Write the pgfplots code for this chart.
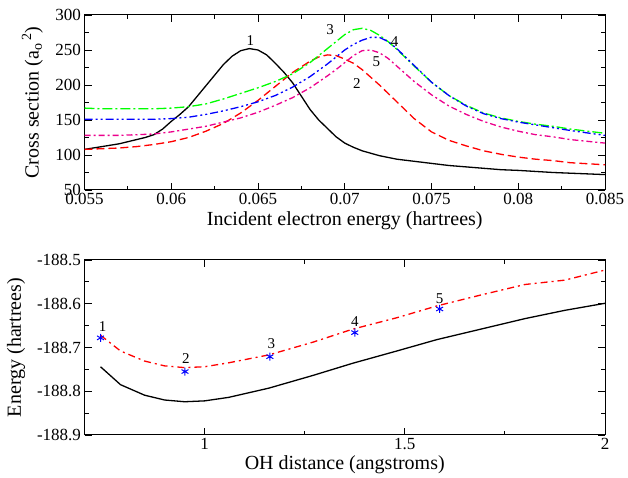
\documentclass[border=0pt]{standalone}
\usepackage{fontspec}
\setmainfont{Liberation Serif}
\usepackage{pgfplots}
\pgfplotsset{compat=1.18}

\pgfplotsset{
  graceaxis/.style={
    scale only axis, width=520.5pt, height=175pt, anchor=south west,
    tick align=inside, xtick pos=both, ytick pos=both,
    minor x tick num=1, minor y tick num=1,
    major tick length=7pt, minor tick length=4pt,
    every tick/.style={black, line width=0.9pt},
    axis line style={line width=1pt},
    scaled ticks=false,
    tick label style={font=\fontsize{17}{19}\selectfont},
    label style={font=\fontsize{20}{22}\selectfont},
    clip=true,
  },
}

\begin{document}
\begin{tikzpicture}[x=1pt,y=1pt]
\path[use as bounding box] (0,0) rectangle (628,478);

% top: cross sections
\begin{axis}[graceaxis, at={(84.5pt,288pt)},
  xmin=0.055, xmax=0.085, ymin=50, ymax=300,
  xtick={0.055,0.06,0.065,0.07,0.075,0.08,0.085},
  xticklabels={0.055,0.06,0.065,0.07,0.075,0.08,0.085},
  ytick={50,100,150,200,250,300},
  yticklabels={50,100,150,200,250,300},
  xlabel={Incident electron energy (hartrees)},
  ylabel={Cross section (a\textsubscript{o}\textsuperscript{\,2})},
  xlabel style={at={(axis description cs:0.5,-0.177)}, anchor=center},
  ylabel style={at={(axis description cs:-0.10,0.5)}, anchor=center},
]
\addplot[black, line width=1.3pt] coordinates {
 (0.055,108) (0.056,112) (0.057,116) (0.0575,119) (0.058,122) (0.0585,125)
 (0.059,129) (0.0595,137) (0.060,148) (0.0605,158) (0.061,169) (0.0615,184)
 (0.062,199) (0.0625,214) (0.063,229) (0.0635,241) (0.064,249) (0.0645,252)
 (0.065,250) (0.0655,243) (0.066,231) (0.0665,218) (0.067,203) (0.0675,184)
 (0.068,165) (0.0685,150) (0.069,138) (0.0695,126) (0.070,117) (0.0705,111)
 (0.071,106) (0.072,99) (0.073,94) (0.074,91) (0.075,88) (0.076,85)
 (0.077,83) (0.078,81) (0.079,79) (0.080,78) (0.082,75) (0.085,72)
};
\addplot[red, line width=1.3pt, dash pattern=on 8pt off 4pt] coordinates {
 (0.055,108) (0.056,109) (0.057,110) (0.058,112) (0.059,115) (0.060,119)
 (0.061,125) (0.062,134) (0.063,145) (0.064,160) (0.065,178) (0.066,198)
 (0.067,218) (0.068,234) (0.0685,240) (0.069,243) (0.0695,242) (0.070,237)
 (0.0705,231) (0.071,222) (0.072,200) (0.073,176) (0.074,152) (0.075,133)
 (0.076,121) (0.077,113) (0.078,106) (0.079,101) (0.080,97) (0.081,94)
 (0.082,92) (0.083,89) (0.085,86)
};
\addplot[green, line width=1.3pt, dash pattern=on 10pt off 3pt on 2pt off 3pt] coordinates {
 (0.055,167) (0.056,166) (0.057,166) (0.058,166) (0.059,166) (0.060,167)
 (0.061,169) (0.062,173) (0.063,180) (0.064,188) (0.065,196) (0.066,205)
 (0.067,216) (0.068,232) (0.069,252) (0.0695,262) (0.070,272) (0.0705,279)
 (0.071,281) (0.0715,278) (0.072,271) (0.0725,262) (0.073,251) (0.074,227)
 (0.075,204) (0.076,185) (0.077,171) (0.078,160) (0.079,153) (0.080,148)
 (0.081,144) (0.082,141) (0.083,137) (0.085,131)
};
\addplot[blue, line width=1.3pt, dash pattern=on 8pt off 3pt on 2pt off 3pt on 2pt off 3pt] coordinates {
 (0.055,151) (0.056,151) (0.057,151) (0.058,151) (0.059,151) (0.060,152)
 (0.061,154) (0.062,158) (0.063,163) (0.064,169) (0.065,176) (0.066,185)
 (0.067,197) (0.068,212) (0.069,230) (0.0695,240) (0.070,250) (0.0705,258)
 (0.071,264) (0.0715,268) (0.072,268) (0.0725,262) (0.073,252) (0.074,228)
 (0.075,204) (0.076,185) (0.077,170) (0.078,159) (0.079,152) (0.080,147)
 (0.081,143) (0.082,139) (0.083,135) (0.085,128)
};
\addplot[magenta, line width=1.3pt, dash pattern=on 6pt off 3pt on 2pt off 3pt] coordinates {
 (0.055,128) (0.056,128) (0.057,128) (0.058,129) (0.059,130) (0.060,133)
 (0.061,137) (0.062,141) (0.063,147) (0.064,153) (0.065,161) (0.066,171)
 (0.067,182) (0.068,196) (0.069,213) (0.0695,222) (0.070,232) (0.0705,242)
 (0.071,249) (0.0715,250) (0.072,246) (0.0725,238) (0.073,227) (0.074,205)
 (0.075,186) (0.076,170) (0.077,158) (0.078,148) (0.079,140) (0.080,134)
 (0.081,129) (0.082,126) (0.083,122) (0.085,117)
};
\begin{scope}[font=\fontsize{15}{17}\selectfont]
\node at (axis cs:0.06456,263) {1};
\node at (axis cs:0.0707,202) {2};
\node at (axis cs:0.06916,279) {3};
\node at (axis cs:0.07287,262) {4};
\node at (axis cs:0.07182,233) {5};
\end{scope}
\end{axis}

% bottom: energies
\begin{axis}[graceaxis, at={(84.5pt,43pt)},
  xmin=0.7, xmax=2, ymin=-188.9, ymax=-188.5,
  xtick={1,1.5,2}, xticklabels={1,1.5,2},
  ytick={-188.9,-188.8,-188.7,-188.6,-188.5},
  yticklabels={-188.9,-188.8,-188.7,-188.6,-188.5},
  xlabel={OH distance (angstroms)},
  ylabel={Energy (hartrees)},
  xlabel style={at={(axis description cs:0.5,-0.171)}, anchor=center},
  ylabel style={at={(axis description cs:-0.1316,0.5)}, anchor=center},
]
\addplot[black, line width=1.3pt] coordinates {
 (0.74,-188.744) (0.79,-188.785) (0.85,-188.809) (0.90,-188.820) (0.95,-188.824)
 (1.00,-188.822) (1.06,-188.814) (1.16,-188.793) (1.27,-188.764) (1.37,-188.736)
 (1.48,-188.708) (1.58,-188.682) (1.69,-188.658) (1.80,-188.634) (1.90,-188.615)
 (2.00,-188.599)
};
\addplot[red, line width=1.3pt, dash pattern=on 7pt off 4pt on 2pt off 4pt] coordinates {
 (0.74,-188.672) (0.79,-188.708) (0.85,-188.731) (0.90,-188.742) (0.95,-188.746)
 (1.00,-188.744) (1.06,-188.735) (1.16,-188.717) (1.27,-188.688) (1.37,-188.658)
 (1.48,-188.632) (1.58,-188.605) (1.69,-188.580) (1.80,-188.556) (1.90,-188.546)
 (2.00,-188.523)
};
\addplot[blue, only marks, mark=asterisk, mark size=4pt, mark options={line width=1pt}] coordinates {
 (0.74,-188.678) (0.951,-188.755) (1.163,-188.721) (1.375,-188.666) (1.587,-188.612)
};
\begin{scope}[font=\fontsize{15}{17}\selectfont]
\node at (axis cs:0.745,-188.652) {1};
\node at (axis cs:0.953,-188.725) {2};
\node at (axis cs:1.167,-188.690) {3};
\node at (axis cs:1.375,-188.641) {4};
\node at (axis cs:1.587,-188.588) {5};
\end{scope}
\end{axis}
\end{tikzpicture}
\end{document}
